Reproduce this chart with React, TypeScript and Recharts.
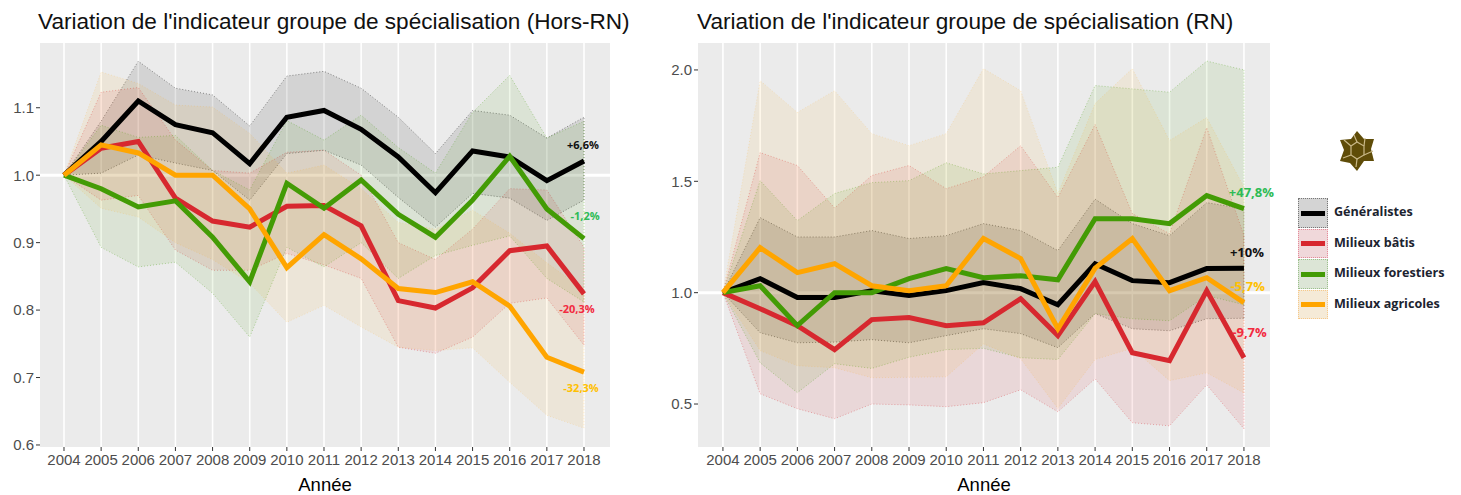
import { ComposedChart, Area, Line, XAxis, YAxis, CartesianGrid, ReferenceDot, ReferenceLine } from "recharts";

const years = [2004, 2005, 2006, 2007, 2008, 2009, 2010, 2011, 2012, 2013, 2014, 2015, 2016, 2017, 2018];

// Hors-RN
const horsGen = [1, 1.05, 1.11, 1.075, 1.063, 1.017, 1.086, 1.096, 1.068, 1.027, 0.974, 1.036, 1.027, 0.992, 1.021];
const horsGenLow = [1, 1.003, 1.03, 1.018, 1.007, 0.963, 1.032, 1.037, 1.015, 0.967, 0.923, 0.973, 0.966, 0.933, 0.963];
const horsGenHigh = [1, 1.08, 1.169, 1.129, 1.119, 1.073, 1.147, 1.154, 1.129, 1.086, 1.032, 1.096, 1.089, 1.055, 1.086];
const horsBati = [1, 1.04, 1.05, 0.966, 0.932, 0.923, 0.954, 0.955, 0.925, 0.814, 0.803, 0.833, 0.888, 0.895, 0.824];
const horsBatiLow = [1, 0.963, 0.97, 0.889, 0.859, 0.859, 0.884, 0.867, 0.847, 0.745, 0.736, 0.76, 0.81, 0.818, 0.748];
const horsBatiHigh = [1, 1.123, 1.13, 1.052, 1.007, 1.003, 1.034, 1.037, 1.0, 0.9, 0.875, 0.92, 0.98, 0.978, 0.893];
const horsForet = [1, 0.98, 0.953, 0.962, 0.908, 0.842, 0.988, 0.951, 0.993, 0.942, 0.908, 0.963, 1.028, 0.95, 0.906];
const horsForetLow = [1, 0.893, 0.864, 0.871, 0.825, 0.76, 0.893, 0.864, 0.9, 0.847, 0.881, 0.896, 0.91, 0.847, 0.812];
const horsForetHigh = [1, 1.074, 1.056, 1.059, 1.007, 0.978, 1.081, 1.052, 1.089, 1.041, 1.003, 1.093, 1.148, 1.055, 1.08];
const horsAgri = [1, 1.045, 1.033, 1, 1, 0.95, 0.863, 0.912, 0.876, 0.832, 0.826, 0.842, 0.806, 0.73, 0.708];
const horsAgriLow = [1, 0.951, 0.938, 0.9, 0.875, 0.84, 0.782, 0.807, 0.775, 0.745, 0.74, 0.744, 0.693, 0.644, 0.625];
const horsAgriHigh = [1, 1.153, 1.136, 1.104, 1.101, 1.062, 1.003, 1.015, 0.98, 0.93, 0.92, 0.948, 0.914, 0.87, 0.83];

// RN
const rnGen = [1, 1.063, 0.978, 0.978, 1.009, 0.987, 1.009, 1.045, 1.018, 0.946, 1.13, 1.054, 1.045, 1.108, 1.11];
const rnGenLow = [1, 0.82, 0.775, 0.778, 0.789, 0.775, 0.807, 0.838, 0.816, 0.753, 0.906, 0.838, 0.829, 0.883, 0.885];
const rnGenHigh = [1, 1.337, 1.25, 1.25, 1.279, 1.243, 1.256, 1.31, 1.279, 1.189, 1.42, 1.31, 1.256, 1.404, 1.377];
const rnBati = [1, 0.928, 0.852, 0.744, 0.879, 0.888, 0.852, 0.865, 0.973, 0.807, 1.05, 0.73, 0.695, 1.009, 0.708];
const rnBatiLow = [1, 0.546, 0.479, 0.434, 0.5, 0.496, 0.488, 0.506, 0.564, 0.465, 0.613, 0.416, 0.402, 0.586, 0.389];
const rnBatiHigh = [1, 1.629, 1.571, 1.38, 1.526, 1.571, 1.467, 1.52, 1.66, 1.427, 1.755, 1.355, 1.265, 1.741, 1.256];
const rnForet = [1, 1.031, 0.852, 1, 1, 1.063, 1.108, 1.067, 1.076, 1.058, 1.332, 1.332, 1.31, 1.436, 1.377];
const rnForetLow = [1, 0.685, 0.551, 0.681, 0.66, 0.71, 0.744, 0.75, 0.708, 0.7, 0.906, 0.883, 0.874, 0.987, 0.946];
const rnForetHigh = [1, 1.503, 1.323, 1.445, 1.494, 1.503, 1.583, 1.533, 1.548, 1.563, 1.93, 1.915, 1.9, 2.04, 2.0];
const rnAgri = [1, 1.202, 1.09, 1.13, 1.031, 1.009, 1.031, 1.243, 1.153, 0.838, 1.11, 1.243, 1.009, 1.067, 0.955];
const rnAgriLow = [1, 0.74, 0.672, 0.663, 0.618, 0.62, 0.622, 0.77, 0.703, 0.48, 0.7, 0.75, 0.605, 0.64, 0.55];
const rnAgriHigh = [1, 1.952, 1.809, 1.907, 1.714, 1.66, 1.714, 2.006, 1.907, 1.445, 1.849, 2.006, 1.683, 1.786, 1.474];

const groups = ["Généralistes", "Milieux bâtis", "Milieux forestiers", "Milieux agricoles"];
const groupColors = ["#000000", "#d7282f", "#439b05", "#ffa500"];
const bandOpacity = [0.1, 0.1, 0.09, 0.08];
const edgeOpacity = [0.6, 0.5, 0.5, 0.25];
const legendFills = ["#d4d4d4", "#f0d8da", "#dce5d6", "#f5ead7"];
const legendEdges = ["#777777", "#e58a9a", "#9cc08c", "#f7c98a"];

const horsTicks = [0.6, 0.7, 0.8, 0.9, 1.0, 1.1];
const rnTicks = [0.5, 1.0, 1.5, 2.0];

const horsNotes = [
  { text: "+6,6%", x: 2017.97, y: 1.044, color: "#111111" },
  { text: "-1,2%", x: 2018.03, y: 0.939, color: "#2dbb55" },
  { text: "-20,3%", x: 2017.81, y: 0.801, color: "#f22a40" },
  { text: "-32,3%", x: 2017.92, y: 0.684, color: "#ffc000" },
];
const rnNotes = [
  { text: "+47,8%", x: 2018.2, y: 1.449, color: "#2dbb55" },
  { text: "+10%", x: 2018.08, y: 1.18, color: "#111111" },
  { text: "-5,7%", x: 2018.1, y: 1.027, color: "#ffc000" },
  { text: "-9,7%", x: 2018.15, y: 0.82, color: "#f22a40" },
];

function buildRows(lines: number[][], lows: number[][], highs: number[][]) {
  return years.map((year, i) => {
    const row: Record<string, any> = { year };
    groups.forEach((_, g) => {
      row["line" + g] = lines[g][i];
      row["band" + g] = [lows[g][i], highs[g][i]];
    });
    return row;
  });
}

const horsRows = buildRows(
  [horsGen, horsBati, horsForet, horsAgri],
  [horsGenLow, horsBatiLow, horsForetLow, horsAgriLow],
  [horsGenHigh, horsBatiHigh, horsForetHigh, horsAgriHigh]
);
const rnRows = buildRows(
  [rnGen, rnBati, rnForet, rnAgri],
  [rnGenLow, rnBatiLow, rnForetLow, rnAgriLow],
  [rnGenHigh, rnBatiHigh, rnForetHigh, rnAgriHigh]
);

const FONT = "'Liberation Sans', Arial, sans-serif";

type Note = { text: string; x: number; y: number; color: string };

function Panel(props: {
  rows: any[];
  left: number;
  marginRight: number;
  xDomain: number[];
  yDomain: number[];
  yTicks: number[];
  notes: Note[];
  noteSize: number;
}) {
  const { rows, left, marginRight, xDomain, yDomain, yTicks, notes, noteSize } = props;
  const last = rows[rows.length - 1];
  return (
    <div style={{ position: "absolute", left, top: 0 }}>
      <ComposedChart
        width={640}
        height={495}
        data={rows}
        margin={{ top: 43, right: marginRight, left: 0, bottom: 0 }}
      >
        <CartesianGrid horizontal={false} verticalValues={years} stroke="#ffffff" strokeWidth={1.6} fill="#ebebeb" fillOpacity={1} />
        <CartesianGrid vertical={false} horizontalValues={[1]} stroke="#ffffff" strokeWidth={3} />
        <XAxis
          dataKey="year"
          type="number"
          domain={xDomain}
          ticks={years}
          interval={0}
          height={48}
          axisLine={false}
          tickSize={4}
          tickMargin={3}
          tickLine={{ stroke: "#333333", strokeWidth: 1 }}
          tick={{ fill: "#4d4d4d", fontSize: 15, fontFamily: FONT }}
          label={{ value: "Année", position: "insideBottom", offset: 4, fill: "#000", fontSize: 18.5, fontFamily: FONT }}
        />
        <YAxis
          type="number"
          domain={yDomain}
          ticks={yTicks}
          width={40}
          axisLine={false}
          tickSize={4}
          tickMargin={2}
          tickLine={{ stroke: "#333333", strokeWidth: 1 }}
          tick={{ fill: "#4d4d4d", fontSize: 15, fontFamily: FONT }}
          tickFormatter={(v: number) => v.toFixed(1)}
        />
        {groups.map((name, g) => (
          <Area
            key={name}
            dataKey={"band" + g}
            type="linear"
            fill={groupColors[g]}
            fillOpacity={bandOpacity[g]}
            stroke={groupColors[g]}
            strokeOpacity={edgeOpacity[g]}
            strokeWidth={0.7}
            strokeDasharray="1 2"
            dot={false}
            activeDot={false}
            isAnimationActive={false}
          />
        ))}
        {groups.map((name, g) => (
          <ReferenceLine
            key={"edge" + name}
            segment={[
              { x: 2018, y: last["band" + g][0] },
              { x: 2018, y: last["band" + g][1] },
            ]}
            stroke={groupColors[g]}
            strokeOpacity={edgeOpacity[g]}
            strokeWidth={0.7}
            strokeDasharray="1 2"
          />
        ))}
        {groups.map((name, g) => (
          <Line
            key={"line" + name}
            dataKey={"line" + g}
            type="linear"
            stroke={groupColors[g]}
            strokeWidth={5}
            strokeLinejoin="miter"
            dot={false}
            activeDot={false}
            isAnimationActive={false}
          />
        ))}
        {notes.map((n) => (
          <ReferenceDot
            key={n.text}
            x={n.x}
            y={n.y}
            r={0}
            stroke="none"
            label={{
              value: n.text,
              position: "center",
              fill: n.color,
              fontSize: noteSize,
              fontWeight: 700,
              fontFamily: "'Open Sans', sans-serif",
            }}
          />
        ))}
      </ComposedChart>
    </div>
  );
}

function Badge() {
  return (
    <svg width={40} height={44} style={{ position: "absolute", left: 1337, top: 129 }} viewBox="0 0 40 44">
      <polygon
        points="20,2 27,10 37,10 34,20 37,32 27,32 20,42 13,34 3,32 7,21 3,11 14,10"
        fill="#5f4c08"
      />
      <polygon points="14,17 20,13 27,17 27,26 20,30 14,26" fill="#5f4c08" stroke="#c9b888" strokeWidth={1.2} />
      <path d="M14,17 L7,11 M27,17 L28,9 M27,26 L36,22 M20,30 L19,38 M14,26 L6,29 M20,13 L17,6" stroke="#c9b888" strokeWidth={1.2} fill="none" />
    </svg>
  );
}

function LegendBlock() {
  return (
    <div style={{ position: "absolute", left: 1298, top: 198 }}>
      {groups.map((name, g) => (
        <div key={name} style={{ position: "relative", height: 30.5, width: 160 }}>
          <div
            style={{
              position: "absolute",
              left: 0,
              top: 0,
              width: 30,
              height: 29.5,
              boxSizing: "border-box",
              background: legendFills[g],
              border: "1px dotted " + legendEdges[g],
            }}
          />
          <div style={{ position: "absolute", left: 3, top: 12.5, width: 24, height: 5, background: groupColors[g] }} />
          <div
            style={{
              position: "absolute",
              left: 36,
              top: 5,
              fontFamily: "'Open Sans', sans-serif",
              fontWeight: 700,
              fontSize: 12.6,
              color: "#1c2430",
              whiteSpace: "nowrap",
            }}
          >
            {name}
          </div>
        </div>
      ))}
    </div>
  );
}

const titleStyle = {
  position: "absolute" as const,
  top: 9,
  fontFamily: FONT,
  fontSize: 22.6,
  color: "#111",
  whiteSpace: "nowrap" as const,
};

export default function App() {
  return (
    <div style={{ position: "absolute", left: 0, top: 0, width: 1461, height: 495, background: "#fff", overflow: "hidden" }}>
      <Panel
        rows={horsRows}
        left={0}
        marginRight={30}
        xDomain={[2003.354, 2018.7]}
        yDomain={[0.597, 1.196]}
        yTicks={horsTicks}
        notes={horsNotes}
        noteSize={11}
      />
      <Panel
        rows={rnRows}
        left={658}
        marginRight={28}
        xDomain={[2003.33, 2018.7]}
        yDomain={[0.307, 2.121]}
        yTicks={rnTicks}
        notes={rnNotes}
        noteSize={13}
      />
      <div style={{ ...titleStyle, left: 38 }}>Variation de l'indicateur groupe de spécialisation (Hors-RN)</div>
      <div style={{ ...titleStyle, left: 697 }}>Variation de l'indicateur groupe de spécialisation (RN)</div>
      <Badge />
      <LegendBlock />
    </div>
  );
}
